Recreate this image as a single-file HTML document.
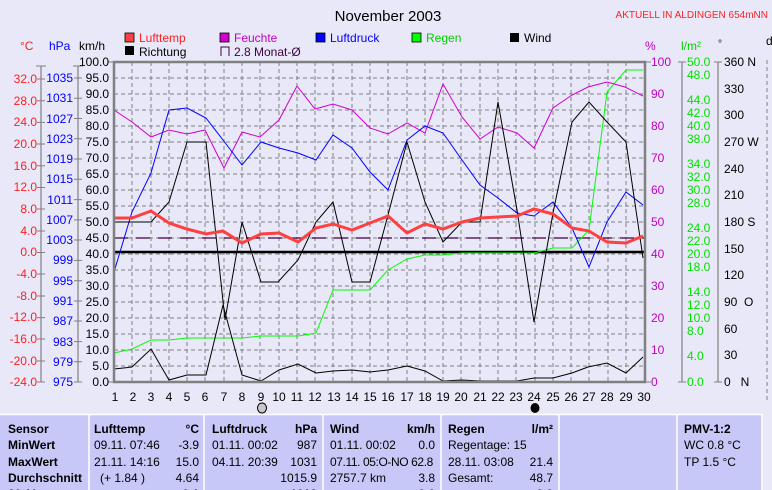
<!DOCTYPE html>
<html><head><meta charset="utf-8"><style>
body{margin:0;background:#e8e8f8;}
svg{display:block;font-family:"Liberation Sans",sans-serif;}
</style></head><body>
<svg width="772" height="490" viewBox="0 0 772 490">
<rect width="772" height="490" fill="#e8e8f8"/>
<text x="388" y="21" font-size="15" text-anchor="middle">November 2003</text>
<text x="768" y="18" font-size="10" fill="#ff2020" text-anchor="end">AKTUELL IN ALDINGEN 654mNN</text>
<g font-size="12">
<rect x="125" y="33" width="9" height="9" fill="#ff4040" stroke="#000" stroke-width="0.8"/><text x="139" y="42" fill="#ff2020">Lufttemp</text>
<rect x="220" y="33" width="9" height="9" fill="#d000d0" stroke="#000" stroke-width="0.8"/><text x="234" y="42" fill="#c000c0">Feuchte</text>
<rect x="316" y="33" width="9" height="9" fill="#0000ff" stroke="#000" stroke-width="0.8"/><text x="330" y="42" fill="#0000ff">Luftdruck</text>
<rect x="412" y="33" width="9" height="9" fill="#00ff00" stroke="#000" stroke-width="0.8"/><text x="426" y="42" fill="#00d000">Regen</text>
<rect x="510" y="33" width="9" height="9" fill="#000"/><text x="524" y="42">Wind</text>
<rect x="125" y="46" width="9" height="9" fill="#000"/><text x="139" y="56">Richtung</text>
<path d="M221 56 V47 H229 V56" fill="none" stroke="#400040" stroke-width="1"/><text x="234" y="56" fill="#400040">2.8 Monat-Ø</text>
<text x="20" y="50" fill="#ff2020">°C</text>
<text x="49" y="50" fill="#0000ff">hPa</text>
<text x="79" y="50">km/h</text>
<text x="645" y="50" fill="#c000c0">%</text>
<text x="681" y="50" fill="#00d000">l/m²</text>
<text x="718" y="47" font-size="10">°</text>
<text x="766" y="45">d</text>
</g>
<g stroke="#808080" stroke-width="1" stroke-dasharray="4,3">
<path d="M132 62V382M151 62V382M169 62V382M187 62V382M205 62V382M224 62V382M242 62V382M260 62V382M279 62V382M297 62V382M315 62V382M333 62V382M352 62V382M370 62V382M388 62V382M407 62V382M425 62V382M443 62V382M461 62V382M480 62V382M498 62V382M516 62V382M535 62V382M553 62V382M571 62V382M589 62V382M608 62V382M626 62V382"/>
<path d="M114 78H645M114 94H645M114 110H645M114 126H645M114 142H645M114 158H645M114 174H645M114 190H645M114 206H645M114 222H645M114 238H645M114 254H645M114 270H645M114 286H645M114 302H645M114 318H645M114 334H645M114 350H645M114 366H645"/>
<path d="M767 60V400"/>
</g>
<g stroke="#808080" stroke-width="1.2">
<path d="M41 66V382M78 66V382M682 62V382M718 62V382"/>
</g>
<g stroke="#808080" stroke-width="1">
<path d="M36 66H46M73 66H83M37 79H45M37 100.7H45M37 122.4H45M37 144H45M37 165.8H45M37 187.5H45M37 209H45M37 231H45M37 252.5H45M37 274H45M37 296H45M37 317.6H45M37 339H45M37 361H45M37 382H45"/>
<path d="M74 78H82M74 98.3H82M74 118.5H82M74 138.8H82M74 159H82M74 179.3H82M74 199.6H82M74 219.9H82M74 240H82M74 260.4H82M74 280.7H82M74 301H82M74 321H82M74 341.6H82M74 361.7H82M74 382H82"/>
<path d="M108 62H114M108 382H114M645 62H651M645 382H651M678 62H686M714 62H722M678 382H686M714 382H722"/>
</g>
<g font-size="12" fill="#ff2020" text-anchor="end">
<text x="37" y="83">32.0</text><text x="37" y="105">28.0</text><text x="37" y="126">24.0</text><text x="37" y="148">20.0</text><text x="37" y="170">16.0</text><text x="37" y="191">12.0</text><text x="37" y="213">8.0</text><text x="37" y="235">4.0</text><text x="37" y="256">0.0</text><text x="37" y="278">-4.0</text><text x="37" y="300">-8.0</text><text x="37" y="321">-12.0</text><text x="37" y="343">-16.0</text><text x="37" y="365">-20.0</text><text x="37" y="386">-24.0</text>
</g>
<g font-size="12" fill="#0000ff" text-anchor="end">
<text x="73" y="82">1035</text><text x="73" y="102">1031</text><text x="73" y="123">1027</text><text x="73" y="143">1023</text><text x="73" y="163">1019</text><text x="73" y="183">1015</text><text x="73" y="204">1011</text><text x="73" y="224">1007</text><text x="73" y="244">1003</text><text x="73" y="264">999</text><text x="73" y="285">995</text><text x="73" y="305">991</text><text x="73" y="325">987</text><text x="73" y="346">983</text><text x="73" y="366">979</text><text x="73" y="386">975</text>
</g>
<g font-size="12" text-anchor="end">
<text x="109" y="66">100.0</text><text x="109" y="82">95.0</text><text x="109" y="98">90.0</text><text x="109" y="114">85.0</text><text x="109" y="130">80.0</text><text x="109" y="146">75.0</text><text x="109" y="162">70.0</text><text x="109" y="178">65.0</text><text x="109" y="194">60.0</text><text x="109" y="210">55.0</text><text x="109" y="226">50.0</text><text x="109" y="242">45.0</text><text x="109" y="258">40.0</text><text x="109" y="274">35.0</text><text x="109" y="290">30.0</text><text x="109" y="306">25.0</text><text x="109" y="322">20.0</text><text x="109" y="338">15.0</text><text x="109" y="354">10.0</text><text x="109" y="370">5.0</text><text x="109" y="386">0.0</text>
</g>
<g font-size="12" fill="#c000c0">
<text x="651" y="66">100</text><text x="651" y="98">90</text><text x="651" y="130">80</text><text x="651" y="162">70</text><text x="651" y="194">60</text><text x="651" y="226">50</text><text x="651" y="258">40</text><text x="651" y="290">30</text><text x="651" y="322">20</text><text x="651" y="354">10</text><text x="651" y="386">0</text>
</g>
<g font-size="12" fill="#00e000">
<text x="687" y="66">50.0</text><text x="687" y="79">48.0</text><text x="687" y="104">44.0</text><text x="687" y="117">42.0</text><text x="687" y="130">40.0</text><text x="687" y="143">38.0</text><text x="687" y="168">34.0</text><text x="687" y="181">32.0</text><text x="687" y="194">30.0</text><text x="687" y="207">28.0</text><text x="687" y="232">24.0</text><text x="687" y="245">22.0</text><text x="687" y="258">20.0</text><text x="687" y="271">18.0</text><text x="687" y="296">14.0</text><text x="687" y="309">12.0</text><text x="687" y="322">10.0</text><text x="687" y="335">8.0</text><text x="687" y="360">4.0</text><text x="687" y="386">0.0</text>
</g>
<g font-size="12">
<text x="724" y="66">360 N</text><text x="724" y="93">330</text><text x="724" y="119">300</text><text x="724" y="146">270 W</text><text x="724" y="173">240</text><text x="724" y="199">210</text><text x="724" y="226">180 S</text><text x="724" y="253">150</text><text x="724" y="279">120</text><text x="724" y="306">90&#160;&#160;O</text><text x="724" y="333">60</text><text x="724" y="359">30</text><text x="724" y="386">0&#160;&#160;&#160;N</text>
</g>
<path d="M114 238H645" stroke="#400040" stroke-width="1.2" stroke-dasharray="14,8" fill="none"/>
<path d="M114 252H645" stroke="#000" stroke-width="2.5"/>
<polyline fill="none" stroke="#00ff00" stroke-width="1" points="114,353 132,349 151,340 169,340 187,338 206,338 223,338 242,338 261,336 279,336 298,336 316,333 333,290 352,290 370,290 388,270 407,259 425,255 443,255 462,253 480,253 498,253 517,253 534,253 553,248 572,248 589,230 607,92 626,70 643,70"/>
<polyline fill="none" stroke="#d000d0" stroke-width="1" points="114,110 132,122 151,137 169,130 187,134 205,130 224,168 242,132 260,137 279,120 297,86 315,109 333,104 352,110 370,128 388,134 407,123 425,133 443,84 462,117 480,139 498,127 517,133 534,148 553,108 572,95 588,87 607,82 625,87 643,96"/>
<polyline fill="none" stroke="#0000ff" stroke-width="1" points="114,272 132,212 151,173 169,110 187,108 206,118 223,140 242,165 261,142 279,148 298,153 316,160 333,135 352,148 370,172 388,190 407,140 425,126 443,133 462,160 480,185 498,198 517,213 534,216 553,202 572,228 589,267 607,222 626,192 643,205"/>
<polyline fill="none" stroke="#000" stroke-width="1" points="114,222 132,222 151,222 169,202 187,142 206,142 225,320 242,222 261,282 278,282 298,260 316,222 333,202 352,282 370,282 388,215 407,142 425,202 443,242 462,222 480,222 498,102 517,210 534,322 553,213 572,122 589,102 607,122 626,142 643,258"/>
<polyline fill="none" stroke="#000" stroke-width="1" points="114,369 132,367 151,349 169,380 187,375 206,375 223,305 242,375 261,381 279,370 298,364 316,373 333,371 352,370 370,372 388,370 407,366 425,371 443,381 462,380 480,381 498,381 517,381 534,378 553,378 572,373 588,367 607,363 626,373 643,357"/>
<polyline fill="none" stroke="#ff4040" stroke-width="3" points="114,218 132,218 151,211 169,223 187,229 206,234 223,231 242,243 261,234 279,233 298,242 316,228 333,224 352,230 370,223 388,216 407,233 425,224 443,229 462,222 480,218 498,217 517,216 534,209 553,214 572,228 589,231 607,242 626,243 643,236"/>
<rect x="114" y="62" width="531" height="320" fill="none" stroke="#808080" stroke-width="2.5"/>
<g font-size="12" text-anchor="middle">
<text x="115" y="401">1</text><text x="133" y="401">2</text><text x="151" y="401">3</text><text x="169" y="401">4</text><text x="187" y="401">5</text><text x="205" y="401">6</text><text x="224" y="401">7</text><text x="242" y="401">8</text><text x="261" y="401">9</text><text x="279" y="401">10</text><text x="297" y="401">11</text><text x="315" y="401">12</text><text x="334" y="401">13</text><text x="352" y="401">14</text><text x="370" y="401">15</text><text x="388" y="401">16</text><text x="407" y="401">17</text><text x="425" y="401">18</text><text x="443" y="401">19</text><text x="461" y="401">20</text><text x="480" y="401">21</text><text x="498" y="401">22</text><text x="516" y="401">23</text><text x="534" y="401">24</text><text x="553" y="401">25</text><text x="571" y="401">26</text><text x="589" y="401">27</text><text x="607" y="401">28</text><text x="626" y="401">29</text><text x="644" y="401">30</text>
</g>
<ellipse cx="262" cy="408" rx="4.5" ry="5" fill="#c8c8c8" stroke="#000"/>
<ellipse cx="535" cy="408" rx="4.5" ry="5" fill="#000"/>
<rect x="0" y="414" width="762" height="76" fill="#c8c8f8"/>
<path d="M0 414.5H762" stroke="#fff" stroke-width="1.5"/>
<g stroke="#fff" stroke-width="1.5"><path d="M89 414V490M204 414V490M323 414V490M441 414V490M559 414V490M677 414V490M762 414V490"/></g>
<g font-size="12">
<g font-weight="bold"><text x="8" y="433">Sensor</text><text x="8" y="449">MinWert</text><text x="8" y="466">MaxWert</text><text x="8" y="482">Durchschnitt</text>
<text x="94" y="433">Lufttemp</text><text x="199" y="433" text-anchor="end">°C</text>
<text x="212" y="433">Luftdruck</text><text x="317" y="433" text-anchor="end">hPa</text>
<text x="330" y="433">Wind</text><text x="435" y="433" text-anchor="end">km/h</text>
<text x="448" y="433">Regen</text><text x="553" y="433" text-anchor="end">l/m²</text>
<text x="684" y="433">PMV-1:2</text>
<text x="8" y="498">30.11.</text><text x="199" y="498" text-anchor="end">0.1</text><text x="317" y="498" text-anchor="end">1013</text><text x="435" y="498" text-anchor="end">0.0</text><text x="553" y="498" text-anchor="end">0.0</text></g>
<text x="94" y="449">09.11.  07:46</text><text x="199" y="449" text-anchor="end">-3.9</text>
<text x="94" y="466">21.11.  14:16</text><text x="199" y="466" text-anchor="end">15.0</text>
<text x="100" y="482">(+ 1.84 )</text><text x="199" y="482" text-anchor="end">4.64</text>
<text x="212" y="449">01.11.  00:02</text><text x="317" y="449" text-anchor="end">987</text>
<text x="212" y="466">04.11.  20:39</text><text x="317" y="466" text-anchor="end">1031</text>
<text x="317" y="482" text-anchor="end">1015.9</text>
<text x="330" y="449">01.11.  00:02</text><text x="435" y="449" text-anchor="end">0.0</text>
<text x="330" y="466" letter-spacing="-0.4">07.11. 05:O-NO 62.8</text>
<text x="330" y="482">2757.7 km</text><text x="435" y="482" text-anchor="end">3.8</text>
<text x="448" y="449">Regentage: 15</text>
<text x="448" y="466">28.11.  03:08</text><text x="553" y="466" text-anchor="end">21.4</text>
<text x="448" y="482">Gesamt:</text><text x="553" y="482" text-anchor="end">48.7</text>
<text x="684" y="449">WC 0.8 °C</text><text x="684" y="466">TP 1.5 °C</text>
</g>
</svg>
</body></html>
